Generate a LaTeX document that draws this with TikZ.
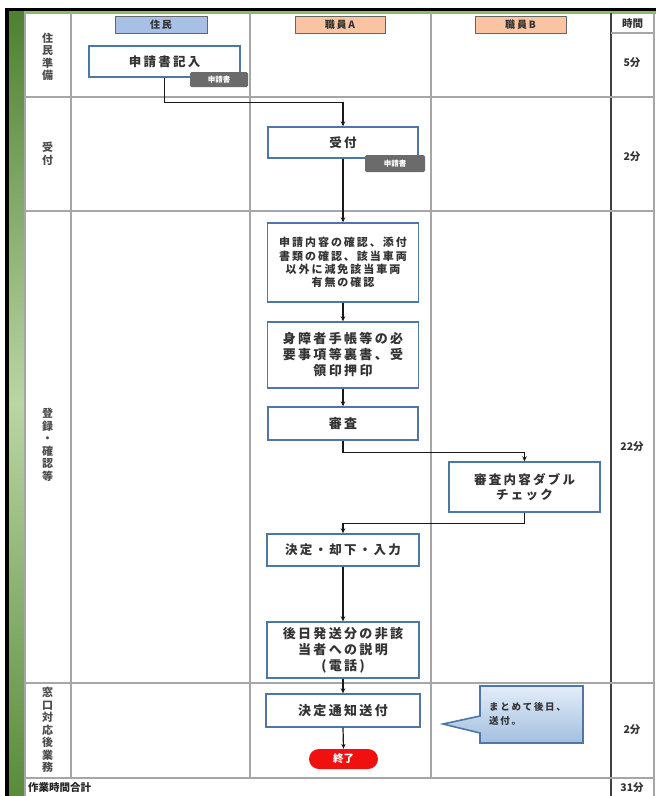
\documentclass[tikz,border=0pt]{standalone}
\usepackage{fontspec}
\setmainfont{Noto Sans CJK JP}
\newfontfamily\jpsp[LetterSpace=18]{Noto Sans CJK JP}
\usetikzlibrary{arrows.meta}

\definecolor{gridgray}{HTML}{A6A6A6}
\definecolor{boxblue}{HTML}{4F77A6}
\definecolor{txt}{HTML}{333333}
\definecolor{hdrblue}{HTML}{A9C0E6}
\definecolor{hdrpeach}{HTML}{F8C4A2}
\definecolor{taggray}{HTML}{6B6B6B}
\definecolor{greendark}{HTML}{4F7F32}
\definecolor{greenbot}{HTML}{5A8A3C}
\definecolor{greenlight}{HTML}{B9D6A3}
\definecolor{greenline}{HTML}{8DB870}
\definecolor{calltop}{HTML}{E3EDF8}
\definecolor{callbot}{HTML}{A3BFE0}
\definecolor{endred}{HTML}{F01010}

\tikzset{
  grid line/.style={gridgray, line width=1.4pt},
  flowbox/.style={draw=boxblue, line width=1.4pt, fill=white, text=txt, align=center, inner sep=0pt},
  hdr/.style={draw=black!60, line width=0.8pt, minimum height=17pt, inner sep=0pt, text=txt,
    font=\jpsp\bfseries\fontsize{10}{12}\selectfont},
  tagbox/.style={fill=taggray, text=white, inner sep=0pt, rounded corners=1.5pt,
    font=\bfseries\fontsize{7.5}{9}\selectfont},
  rlabel/.style={text=black!70, align=center, inner sep=0pt, font=\bfseries\fontsize{11}{12.5}\selectfont},
  tlabel/.style={text=txt, inner sep=0pt, font=\bfseries\fontsize{10.5}{12}\selectfont},
  arr/.style={draw=black!90, line width=1.2pt, -{Stealth[length=5pt,width=4.5pt]}},
}

\begin{document}
\begin{tikzpicture}[x=1pt,y=-1pt]
\useasboundingbox (0,0) rectangle (656,796);
\fill[white] (0,0) rectangle (656,796);

% outer frame and green side bar
\shade[top color=greendark, bottom color=greenbot, middle color=greenlight] (8,10) rectangle (24,796);
\fill[greenline] (24,10.5) rectangle (656,13.5);
\fill[black] (5,7.5) rectangle (656,10.5);
\fill[black] (5,7.5) rectangle (8.5,796);

% table grid
\draw[grid line] (25,13) -- (25,796);
\foreach \xx in {71,250,431} \draw[grid line] (\xx,13) -- (\xx,778);
\draw[black!75, line width=1.4pt] (611,13) -- (611,796);
\draw[grid line] (654,13) -- (654,796);
\foreach \yy in {97,211,683,778} \draw[grid line] (25,\yy) -- (654,\yy);
\draw[grid line] (611,33) -- (654,33);

% column headers
\node[hdr, fill=hdrblue, minimum width=92pt] (hres) at (161,25) {住民};
\node[hdr, fill=hdrpeach, minimum width=90pt] (hA) at (340,25) {職員A};
\node[hdr, fill=hdrpeach, minimum width=91pt] (hB) at (520.5,25) {職員B};
\node[tlabel] (htime) at (632.5,23.5) {時間};

% row labels
\node[rlabel] (r1) at (47.5,57) {住\\民\\準\\備};
\node[rlabel] (r2) at (47.5,154) {受\\付};
\node[rlabel] (r3) at (47.5,445) {登\\録\\・\\確\\認\\等};
\node[rlabel] (r4) at (47.5,730) {窓\\口\\対\\応\\後\\業\\務};

% time column
\node[tlabel] (m1) at (632,63) {5分};
\node[tlabel] (m2) at (632,157) {2分};
\node[tlabel] (m3) at (632,447) {22分};
\node[tlabel] (m4) at (632,730) {2分};
\node[tlabel] (m5) at (632,788) {31分};
\node[tlabel, anchor=west, text=black!85] (tot) at (28,788) {作業時間合計};

% process boxes
\node[flowbox, minimum width=151pt, minimum height=31pt, font=\jpsp\bfseries\fontsize{12.5}{15}\selectfont]
  (b1) at (164.5,61.5) {申請書記入};
\node[flowbox, minimum width=150pt, minimum height=31pt, font=\jpsp\bfseries\fontsize{12.5}{15}\selectfont]
  (b2) at (343,142.5) {受付};
\node[flowbox, minimum width=151pt, minimum height=79pt, font=\jpsp\bfseries\fontsize{11}{13.3}\selectfont]
  (b3) at (343,262.5) {申請内容の確認、添付\\書類の確認、該当車両\\以外に減免該当車両\\有無の確認};
\node[flowbox, minimum width=151pt, minimum height=66pt, font=\jpsp\bfseries\fontsize{13}{16}\selectfont]
  (b4) at (343,355) {身障者手帳等の必\\要事項等裏書、受\\領印押印};
\node[flowbox, minimum width=150pt, minimum height=33pt, font=\jpsp\bfseries\fontsize{13}{15}\selectfont]
  (b5) at (343,423.5) {審査};
\node[flowbox, minimum width=151pt, minimum height=50pt, font=\jpsp\bfseries\fontsize{12.5}{15.5}\selectfont]
  (b6) at (524.5,487) {審査内容ダブル\\チェック};
\node[flowbox, minimum width=152pt, minimum height=32pt, font=\jpsp\bfseries\fontsize{12.5}{15}\selectfont]
  (b7) at (343,550) {決定・却下・入力};
\node[flowbox, minimum width=152pt, minimum height=56pt, font=\jpsp\bfseries\fontsize{13}{16}\selectfont]
  (b8) at (343,650) {後日発送分の非該\\当者への説明\\(電話)};
\node[flowbox, minimum width=154pt, minimum height=33pt, font=\jpsp\bfseries\fontsize{13}{15}\selectfont]
  (b9) at (343,710.5) {決定通知送付};
\node[fill=endred, rounded corners=10pt, minimum width=69pt, minimum height=20pt, text=white,
  inner sep=0pt, font=\bfseries\fontsize{10.5}{12}\selectfont] (endn) at (343.5,759) {終了};

% document tags
\node[tagbox, minimum width=58pt, minimum height=15pt] (t1) at (219,79.5) {申請書};
\node[tagbox, minimum width=60pt, minimum height=17pt] (t2) at (395,163.5) {申請書};

% callout
\path[draw=boxblue, line width=1.6pt, top color=calltop, bottom color=callbot]
  (480,686) -- (583,686) -- (583,743) -- (480,743) -- (480,733) -- (443,724) -- (480,716) -- cycle;
\node[anchor=north west, align=left, inner sep=0pt, text=txt,
  font=\jpsp\bfseries\fontsize{9.5}{14}\selectfont] (note) at (489,702) {まとめて後日、\\送付。};

% connectors
\draw[arr] (b1.south) -- ++(0,25) -| (b2.north);
\draw[arr] (b2.south) -- (b3.north);
\draw[arr] (b3.south) -- (b4.north);
\draw[arr] (b4.south) -- (b5.north);
\draw[arr] (b5.south) -- ++(0,12) -| (b6.north);
\draw[arr] (b6.south) -- ++(0,11) -| (b7.north);
\draw[arr] (b7.south) -- (b8.north);
\draw[arr] (b8.south) -- (b9.north);
\draw[arr] (b9.south) -- (endn.north);
\end{tikzpicture}
\end{document}
